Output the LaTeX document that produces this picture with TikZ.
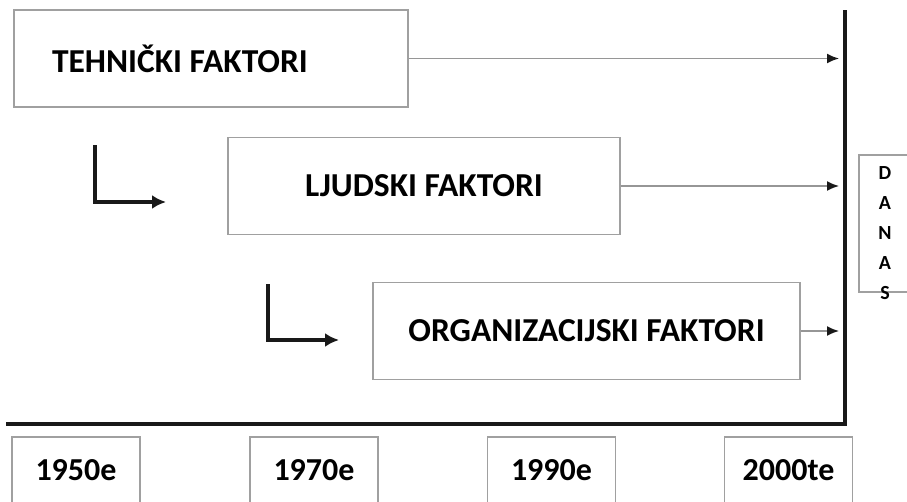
\documentclass[tikz,border=0pt]{standalone}
\usepackage{fontspec}
\setmainfont{Carlito}
\usepackage{tikz}
\usetikzlibrary{arrows.meta}

\definecolor{boxgray}{RGB}{160,160,160}
\definecolor{linegray}{RGB}{150,150,150}
\definecolor{ink}{RGB}{25,25,25}

\tikzset{
  faktor/.style={draw=boxgray, line width=1.3pt, minimum height=97pt, inner sep=0pt,
    font=\bfseries\fontsize{33.5}{38}\selectfont},
  godina/.style={draw=boxgray, line width=1.3pt, minimum width=128pt, minimum height=66pt, inner sep=0pt,
    font=\bfseries\fontsize{32}{36}\selectfont},
  tok/.style={draw=linegray, line width=1.6pt, -{Latex[length=12pt,width=10pt,color=ink]}, shorten >=6pt},
  skok/.style={draw=ink, line width=3.6pt, -{Latex[length=14pt,width=14pt]}},
  osa/.style={draw=ink, line width=3.4pt}
}

\begin{document}
\begin{tikzpicture}[x=1pt,y=1pt,yscale=-1]
\useasboundingbox (0,0) rectangle (907,501);

%Shape: Rectangle [tehnicki]
\node (tehnicki) [faktor, minimum width=394pt] at (211,58.5) {};
\node (tehnickitekst) [faktor, draw=none, minimum height=0pt, anchor=west] at ([xshift=38pt]tehnicki.west) {TEHNIČKI FAKTORI};
%Shape: Rectangle [ljudski]
\node (ljudski) [faktor, minimum width=392pt] at (424,186) {LJUDSKI FAKTORI};
%Shape: Rectangle [organizacijski]
\node (organizacijski) [faktor, minimum width=427pt] at (586.5,331) {ORGANIZACIJSKI FAKTORI};

%Time axis
\coordinate (osgore) at (845,10);
\coordinate (oskut) at (845,424);
\coordinate (oslijevo) at (6,424);
\draw [osa] (osgore) -- (oskut) -- (oslijevo);

%Straight Lines
\draw [tok] (tehnicki.east) -- (tehnicki.east -| osgore);
\draw [tok] (ljudski.east) -- (ljudski.east -| osgore);
\draw [tok] (organizacijski.east) -- (organizacijski.east -| osgore);

%Elbow arrows
\coordinate (skok1) at (95,145);
\coordinate (skok1kraj) at (166,202);
\draw [skok] (skok1) |- (skok1kraj);
\coordinate (skok2) at (268,284);
\coordinate (skok2kraj) at (339,340);
\draw [skok] (skok2) |- (skok2kraj);

%DANAS
\node (danas) [draw=boxgray, line width=1.3pt, minimum width=70pt, minimum height=137pt] at (894,223.5) {};
\node (danastekst) [align=center, font=\bfseries\fontsize{20}{30}\selectfont] at (885,233) {D\\A\\N\\A\\S};

%Years
\node (g1950) [godina] at (76,470) {1950e};
\node (g1970) [godina] at (314,470) {1970e};
\node (g1990) [godina] at (551.5,470) {1990e};
\node (g2000) [godina] at (788.5,470) {2000te};

\end{tikzpicture}
\end{document}
